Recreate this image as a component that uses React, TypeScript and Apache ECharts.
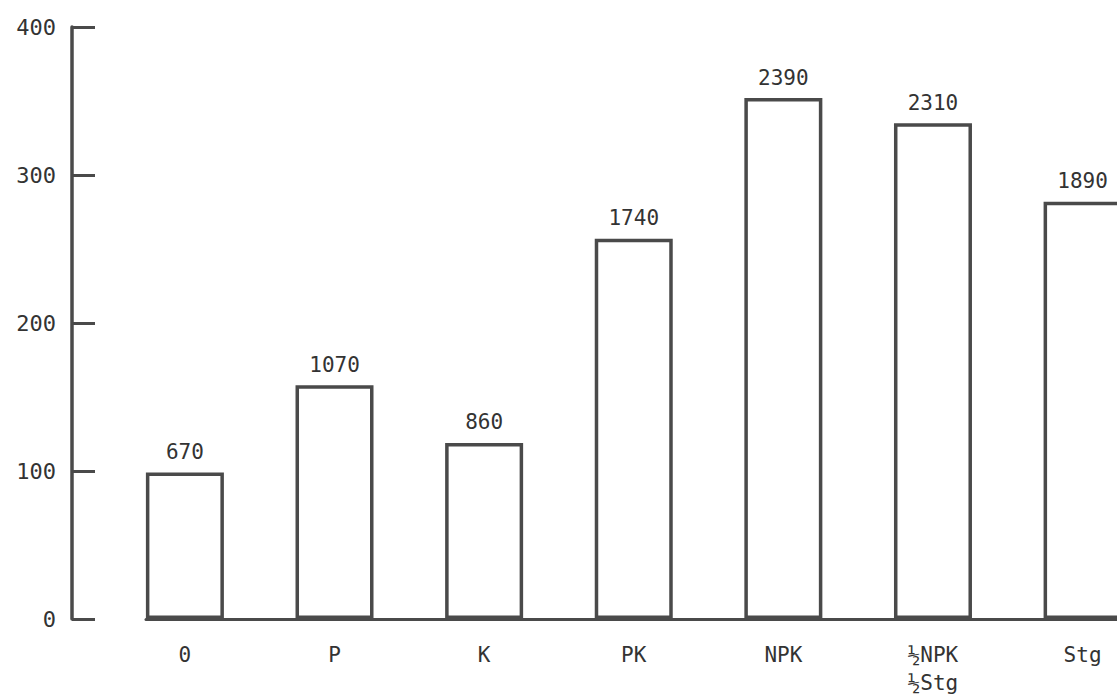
import React, { useEffect, useRef } from "react";
import * as echarts from "echarts";

const categories: string[] = ["0", "P", "K", "PK", "NPK", "½NPK\n½Stg", "Stg"];
const relativeValues: number[] = [99, 158, 119, 257, 352, 335, 282];
const yieldLabels: string[] = ["670", "1070", "860", "1740", "2390", "2310", "1890"];
const yTicks: number[] = [0, 100, 200, 300, 400];

const FONT = "'DejaVu Sans Mono', 'Liberation Mono', monospace";
const INK = "#4a4a4a";

export default function App() {
  const ref = useRef<HTMLDivElement | null>(null);

  useEffect(() => {
    if (!ref.current) return;
    const chart = echarts.init(ref.current, undefined, { renderer: "svg" });
    const data = relativeValues.map((v, i) => [i, v]);
    chart.setOption({
      animation: false,
      backgroundColor: "#ffffff",
      grid: { left: 146, right: 0, top: 27, bottom: 75, containLabel: false },
      xAxis: {
        type: "value",
        min: -0.26,
        max: 6.23,
        splitLine: { show: false },
        axisTick: { show: false },
        axisLine: { show: true, onZero: false, lineStyle: { color: INK, width: 3 } },
        axisLabel: {
          customValues: categories.map((_, i) => i),
          formatter: (v: number) => categories[Math.round(v)] ?? "",
          margin: 22,
          color: "#333",
          fontFamily: FONT,
          fontSize: 21,
          lineHeight: 28,
        },
      },
      yAxis: {
        type: "value",
        min: 0,
        max: 400,
        interval: 100,
        offset: 74,
        splitLine: { show: false },
        axisLine: { show: true, onZero: false, lineStyle: { color: INK, width: 3.5 } },
        axisTick: { show: true, inside: true, length: 23, lineStyle: { color: INK, width: 3 } },
        axisLabel: {
          customValues: yTicks,
          margin: 16,
          color: "#333",
          fontFamily: FONT,
          fontSize: 22,
        },
      },
      series: [
        {
          type: "bar",
          data,
          barWidth: 78,
          itemStyle: { color: "rgba(255,255,255,0)", borderColor: INK, borderWidth: 3.5 },
          label: {
            show: true,
            position: "top",
            distance: 10,
            formatter: (p: any) => yieldLabels[p.dataIndex],
            color: "#333",
            fontFamily: FONT,
            fontSize: 21,
          },
        },
      ],
    });
    return () => chart.dispose();
  }, []);

  return (
    <div
      ref={ref}
      style={{ position: "fixed", left: 0, top: 0, width: 1117, height: 697, background: "#fff" }}
    />
  );
}
